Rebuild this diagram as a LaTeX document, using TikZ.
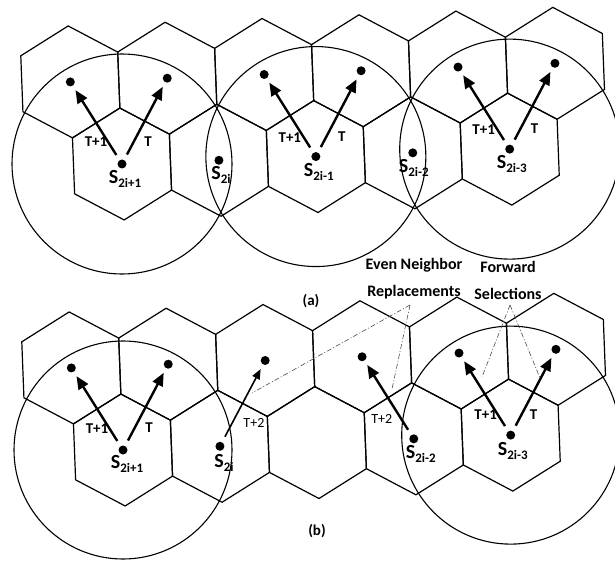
\documentclass[tikz,border=0pt]{standalone}
\usepackage{fontspec}
\setmainfont{Carlito}
\usetikzlibrary{arrows.meta}
\newcommand\subx[1]{\raisebox{-0.4ex}{\fontsize{13}{13}\selectfont #1}}
\begin{document}
\begin{tikzpicture}[x=1pt,y=-1pt,
  hexline/.style={line width=1.2pt, line join=miter},
  rangecirc/.style={line width=1.1pt},
  sensordot/.style={circle, fill=black, inner sep=0pt, minimum size=9pt},
  arr/.style={line width=2.4pt, -{Triangle[length=13pt,width=11pt]}, shorten <=6pt, shorten >=5pt},
  arrthin/.style={line width=1.6pt, -{Triangle[length=10pt,width=8pt]}, shorten <=6pt, shorten >=5pt},
  tlab/.style={font=\fontsize{15}{15}\selectfont\bfseries, inner sep=0pt},
  tlabthin/.style={font=\fontsize{14}{14}\selectfont, inner sep=0pt},
  slab/.style={font=\fontsize{20}{20}\selectfont\bfseries, inner sep=0pt},
  notetext/.style={font=\fontsize{16}{27}\selectfont\bfseries, align=center, inner sep=0pt},
  paneltext/.style={font=\fontsize{15}{15}\selectfont\bfseries, inner sep=0pt},
  calloutline/.style={line width=0.6pt, black!70, dash pattern=on 5pt off 2pt on 1pt off 2pt},
]
\useasboundingbox (0,0) rectangle (615,561);

% ---------- panel (a) ----------
\begin{scope}[shift={(122,164)}, rotate=2.2]
  \foreach \k in {0,...,4}
    \draw[hexline] (97*\k,0) ++(0,-56) -- ++(48.5,28) -- ++(0,56) -- ++(-48.5,28) -- ++(-48.5,-28) -- ++(0,-56) -- cycle;
  \foreach \j in {0,...,5}
    \draw[hexline] (97*\j-48.5,-84) ++(0,-56) -- ++(48.5,28) -- ++(0,56) -- ++(-48.5,28) -- ++(-48.5,-28) -- ++(0,-56) -- cycle;
  \foreach \k in {0,...,4}
    \node[sensordot] (a-m\k) at (97*\k,0) {};
  \foreach \j in {0,...,5}
    \node[sensordot] (a-t\j) at (97*\j-48.5,-84) {};
\end{scope}
\draw[rangecirc] (a-m0) circle[radius=110pt];
\draw[rangecirc] (a-m2) circle[radius=110pt];
\draw[rangecirc] (a-m4) circle[radius=110pt];
\draw[arr] (a-m0) -- (a-t0);
\draw[arr] (a-m0) -- (a-t1);
\draw[arr] (a-m2) -- (a-t2);
\draw[arr] (a-m2) -- (a-t3);
\draw[arr] (a-m4) -- (a-t4);
\draw[arr] (a-m4) -- (a-t5);
\node[tlab] (a-l0) at ([shift={(-26,-22)}]a-m0) {T+1};
\node[tlab] (a-r0) at ([shift={(26,-22)}]a-m0) {T};
\node[tlab] (a-l2) at ([shift={(-26,-19)}]a-m2) {T+1};
\node[tlab] (a-r2) at ([shift={(26,-20)}]a-m2) {T};
\node[tlab] (a-l4) at ([shift={(-26,-19)}]a-m4) {T+1};
\node[tlab] (a-r4) at ([shift={(25,-20)}]a-m4) {T};
\node[slab] (a-s0) at ([shift={(3,15)}]a-m0) {S\subx{2i+1}};
\node[slab] (a-s1) at ([shift={(2,15)}]a-m1) {S\subx{2i}};
\node[slab] (a-s2) at ([shift={(3,15)}]a-m2) {S\subx{2i-1}};
\node[slab] (a-s3) at ([shift={(1,15)}]a-m3) {S\subx{2i-2}};
\node[slab] (a-s4) at ([shift={(2,15)}]a-m4) {S\subx{2i-3}};
\node[paneltext] (lab-a) at (311,301) {(a)};

% ---------- panel (b) ----------
\begin{scope}[shift={(123,450)}, rotate=2.2]
  \foreach \k in {0,...,4}
    \draw[hexline] (97*\k,0) ++(0,-56) -- ++(48.5,28) -- ++(0,56) -- ++(-48.5,28) -- ++(-48.5,-28) -- ++(0,-56) -- cycle;
  \foreach \j in {0,...,5}
    \draw[hexline] (97*\j-48.5,-84) ++(0,-56) -- ++(48.5,28) -- ++(0,56) -- ++(-48.5,28) -- ++(-48.5,-28) -- ++(0,-56) -- cycle;
  \foreach \k in {0,1,3,4}
    \node[sensordot] (b-m\k) at (97*\k,0) {};
  \foreach \j in {0,...,5}
    \node[sensordot] (b-t\j) at (97*\j-48.5,-84) {};
\end{scope}
\draw[rangecirc] (b-m0) circle[radius=109pt];
\draw[rangecirc] (b-m4) circle[radius=109pt];
\draw[arr] (b-m0) -- (b-t0);
\draw[arr] (b-m0) -- (b-t1);
\draw[arrthin] (b-m1) -- (b-t2);
\draw[arr] (b-m3) -- (b-t3);
\draw[arr] (b-m4) -- (b-t4);
\draw[arr] (b-m4) -- (b-t5);
\node[tlab] (b-l0) at ([shift={(-26,-21)}]b-m0) {T+1};
\node[tlab] (b-r0) at ([shift={(26,-22)}]b-m0) {T};
\node[tlabthin] (b-r1) at ([shift={(34,-23)}]b-m1) {T+2};
\node[tlabthin] (b-l3) at ([shift={(-32,-20)}]b-m3) {T+2};
\node[tlab] (b-l4) at ([shift={(-25,-20)}]b-m4) {T+1};
\node[tlab] (b-r4) at ([shift={(23,-20)}]b-m4) {T};
\node[slab] (b-s0) at ([shift={(4,14)}]b-m0) {S\subx{2i+1}};
\node[slab] (b-s1) at ([shift={(4,17)}]b-m1) {S\subx{2i}};
\node[slab] (b-s3) at ([shift={(7,15)}]b-m3) {S\subx{2i-2}};
\node[slab] (b-s4) at ([shift={(2,16)}]b-m4) {S\subx{2i-3}};
\node[paneltext] (lab-b) at (317,531) {(b)};

% ---------- annotations ----------
\node[notetext] (rep) at (414,279) {Even Neighbor\\Replacements};
\node[notetext] (sel) at (508,280) {Forward\\Selections};
\coordinate (c-rep) at (410,305);
\coordinate (c-sel) at (510,305);
\coordinate (e1) at (252,393);
\coordinate (e2) at (392,389);
\coordinate (e3) at (482,377);
\coordinate (e4) at (540,378);
\draw[calloutline] (c-rep) -- (e1);
\draw[calloutline] (c-rep) -- (e2);
\draw[calloutline] (c-sel) -- (e3);
\draw[calloutline] (c-sel) -- (e4);
\end{tikzpicture}
\end{document}
